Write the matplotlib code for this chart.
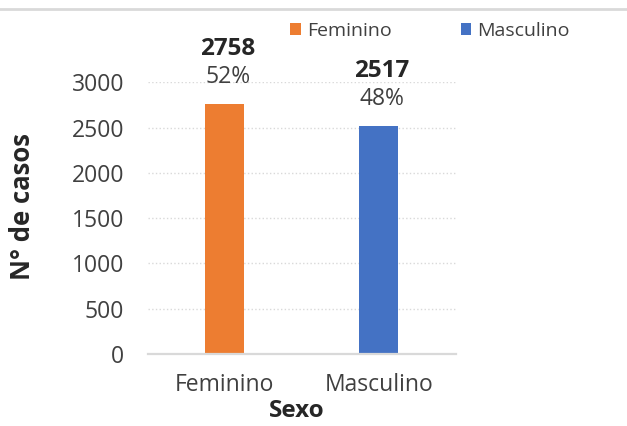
import matplotlib
matplotlib.use("Agg")
import matplotlib.pyplot as plt
from matplotlib.lines import Line2D
from matplotlib.patches import Patch

plt.rcParams['font.family'] = ['Open Sans', 'DejaVu Sans']

categories = ['Feminino', 'Masculino']
cases = [2758, 2517]
percents = ['52%', '48%']
colors = ['#ED7D31', '#4472C4']
yticks = [0, 500, 1000, 1500, 2000, 2500, 3000]

text_grey = '#404040'
dark = '#262626'

fig = plt.figure(figsize=(6.27, 4.26), dpi=100)
ax = fig.add_axes([0.236, 0.169, 0.491, 0.638])

x = range(len(categories))
bars = ax.bar(x, cases, width=0.253, color=colors, zorder=2)

# data labels: value (bold) above percentage
for rect, val, pct in zip(bars, cases, percents):
    cx = rect.get_x() + rect.get_width() / 2
    top = rect.get_height()
    ax.annotate(pct, (cx, top), xytext=(3, 27), textcoords='offset pixels',
                ha='center', va='center', fontsize=16.5, color=text_grey)
    ax.annotate(str(val), (cx, top), xytext=(3, 55), textcoords='offset pixels',
                ha='center', va='center', fontsize=17.5, fontweight='bold', color=dark)

ax.set_xlim(-0.5, 1.5)
ax.set_ylim(0, 3000)
ax.set_yticks(yticks)
ax.set_xticks(list(x))
ax.set_xticklabels(categories)
ax.tick_params(axis='both', length=0, labelsize=16.5, labelcolor=text_grey)
ax.tick_params(axis='y', pad=17)
ax.tick_params(axis='x', pad=14)

ax.grid(axis='y', linestyle=':', color='#d9d9d9', linewidth=1, zorder=0)
for s in ['top', 'right', 'left']:
    ax.spines[s].set_visible(False)
ax.spines['bottom'].set_color('#d9d9d9')
ax.spines['bottom'].set_linewidth(1.6)
ax.spines['bottom'].set_zorder(3)

ax.set_ylabel('N° de casos', fontsize=18.5, fontweight='bold', color=dark, va='center')
ax.yaxis.set_label_coords(-0.406, 0.544)
ax.set_xlabel('Sexo', fontsize=17.5, fontweight='bold', color=dark, va='center')
ax.xaxis.set_label_coords(0.484, -0.21)

handles = [Patch(facecolor=c, edgecolor='none') for c in colors]
fig.legend(handles, categories, loc='center', bbox_to_anchor=(430 / 627, 1 - 31 / 426),
           ncol=2, frameon=False, fontsize=14, labelcolor=text_grey,
           handlelength=0.55, handleheight=0.55, handletextpad=0.3, columnspacing=3.55)

# thin grey border line at the top of the image
fig.add_artist(Line2D([0, 1], [1 - 9 / 426, 1 - 9 / 426], transform=fig.transFigure,
                      color='#d9d9d9', linewidth=2))

fig.savefig('out.png', dpi=100)
